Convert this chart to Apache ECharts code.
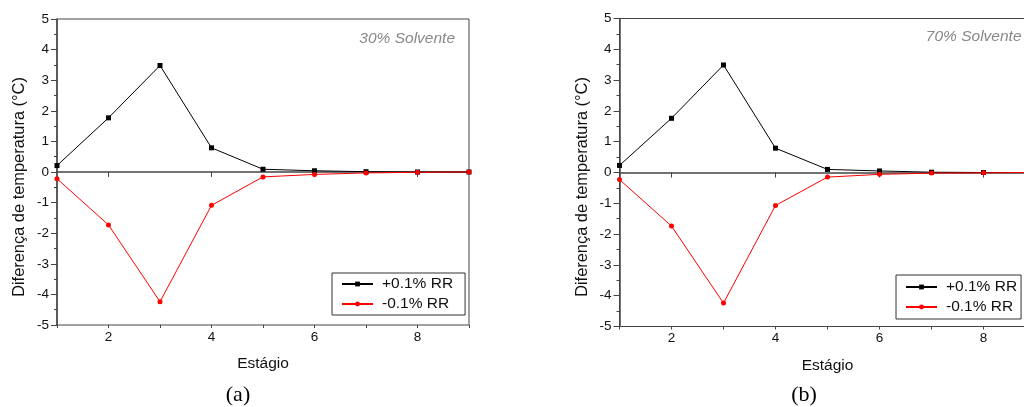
<!DOCTYPE html>
<html>
<head>
<meta charset="utf-8">
<script src="https://cdn.jsdelivr.net/npm/echarts@6/dist/echarts.min.js"></script>
<style>
  html, body { margin: 0; padding: 0; background: #fff; }
  #chart { width: 1024px; height: 407px; }
</style>
</head>
<body>
<div id="chart"></div>
<script>
// Stage numbers along the column
const stages = [1, 2, 3, 4, 5, 6, 7, 8, 9];
const xLabelTicks = [2, 4, 6, 8];

// Temperature difference (°C) per stage, 30% solvent
const plus30 = [0.21, 1.77, 3.48, 0.79, 0.09, 0.04, 0.01, 0.0, 0.0];
const minus30 = [-0.22, -1.73, -4.24, -1.09, -0.16, -0.08, -0.03, -0.01, 0.0];

// Temperature difference (°C) per stage, 70% solvent
const plus70 = [0.23, 1.76, 3.49, 0.79, 0.10, 0.05, 0.01, 0.0, 0.0];
const minus70 = [-0.23, -1.74, -4.24, -1.07, -0.15, -0.06, -0.02, -0.01, 0.0];

const seriesNames = ['+0.1% RR', '-0.1% RR'];
const panelTitles = ['30% Solvente', '70% Solvente'];
const panelTags = ['(a)', '(b)'];
const xName = 'Estágio';
const yName = 'Diferença de temperatura (°C)';

const FONT = 'Liberation Sans, Arial, sans-serif';
const AXIS_COLOR = '#444';

const grids = [
  { left: 57, top: 19, width: 412, height: 306 },
  { left: 619.5, top: 18.5, width: 416, height: 308 }
];

const panels = [
  { plus: plus30, minus: minus30 },
  { plus: plus70, minus: minus70 }
];

const xAxes = [];
const yAxes = [];
const series = [];
const legends = [];
const graphics = [];

grids.forEach((g, i) => {
  // Main x axis: labelled major ticks
  xAxes.push({
    type: 'value', gridIndex: i, position: 'bottom',
    min: 1, max: 9,
    name: xName, nameLocation: 'middle', nameGap: 31,
    nameTextStyle: { fontFamily: FONT, fontSize: 15.5, color: '#111' },
    axisLine: { show: true, lineStyle: { color: AXIS_COLOR, width: 1.5 } },
    axisTick: { show: true, inside: false, length: 5, customValues: xLabelTicks,
                lineStyle: { color: AXIS_COLOR, width: 1 } },
    axisLabel: { show: true, margin: 5, customValues: xLabelTicks,
                 fontFamily: FONT, fontSize: 13.5, color: '#111' },
    splitLine: { show: false }
  });
  // Overlay x axis: short tick at every stage
  xAxes.push({
    type: 'value', gridIndex: i, position: 'bottom', offset: 0,
    min: 1, max: 9, interval: 1,
    axisLine: { show: false },
    axisTick: { show: true, length: 3, lineStyle: { color: AXIS_COLOR, width: 1 } },
    axisLabel: { show: false },
    splitLine: { show: false }
  });
  yAxes.push({
    type: 'value', gridIndex: i,
    min: -5, max: 5, interval: 1,
    axisLine: { show: true, lineStyle: { color: AXIS_COLOR, width: 1.5 } },
    axisTick: { show: true, length: 6, lineStyle: { color: AXIS_COLOR, width: 1 } },
    minorTick: { show: true, splitNumber: 2, length: 3, lineStyle: { color: AXIS_COLOR, width: 1 } },
    axisLabel: { margin: 8, fontFamily: FONT, fontSize: 13.5, color: '#111' },
    splitLine: { show: false }
  });

  const p = panels[i];
  series.push({
    name: seriesNames[0], type: 'line',
    xAxisIndex: i * 2, yAxisIndex: i,
    data: stages.map((s, k) => [s, p.plus[k]]),
    symbol: 'rect', symbolSize: 5, showAllSymbol: true,
    lineStyle: { color: '#000', width: 1 },
    itemStyle: { color: '#000' },
    clip: false, animation: false
  });
  series.push({
    name: seriesNames[1], type: 'line',
    xAxisIndex: i * 2, yAxisIndex: i,
    data: stages.map((s, k) => [s, p.minus[k]]),
    symbol: 'circle', symbolSize: 5, showAllSymbol: true,
    lineStyle: { color: '#ff0000', width: 1 },
    itemStyle: { color: '#ff0000' },
    clip: false, animation: false
  });

  legends.push({
    data: seriesNames,
    orient: 'vertical',
    left: i === 0 ? 332 : 896,
    top: i === 0 ? 273 : 275,
    padding: i === 0 ? [2, 12, 2, 9] : [3, 4, 3, 9],
    itemGap: 2,
    itemWidth: 31, itemHeight: 6,
    borderColor: '#333', borderWidth: 1,
    backgroundColor: '#fff',
    selectedMode: false,
    textStyle: { fontFamily: FONT, fontSize: 15.5, color: '#111', lineHeight: 18, padding: [0, 0, 0, 4] }
  });

  // Panel caption inside plot area (top right)
  graphics.push({
    type: 'text',
    x: g.left + g.width - 14, y: i === 0 ? 39 : 37,
    style: { text: panelTitles[i], align: 'right', verticalAlign: 'middle',
             fontFamily: FONT, fontSize: 15.5, fontStyle: 'italic', fill: '#888' },
    z: 10
  });
  // Rotated y-axis title
  graphics.push({
    type: 'text',
    x: i === 0 ? 19 : 582, y: 187,
    rotation: Math.PI / 2,
    style: { text: yName, align: 'center', verticalAlign: 'middle',
             fontFamily: FONT, fontSize: 16.4, fill: '#111' }
  });
  // Panel tag below the chart
  graphics.push({
    type: 'text',
    x: i === 0 ? 238 : 804, y: 395,
    style: { text: panelTags[i], align: 'center', verticalAlign: 'middle',
             fontFamily: 'Liberation Serif, Times New Roman, serif', fontSize: 22, fill: '#000' }
  });
});

const chart = echarts.init(document.getElementById('chart'), null, { renderer: 'canvas' });
chart.setOption({
  animation: false,
  backgroundColor: '#fff',
  grid: grids.map(g => Object.assign({ show: true, borderColor: AXIS_COLOR, borderWidth: 1,
                                       backgroundColor: 'transparent',
                                       outerBoundsMode: 'none', containLabel: false }, g)),
  xAxis: xAxes,
  yAxis: yAxes,
  legend: legends,
  series: series,
  graphic: graphics
});
</script>
</body>
</html>
